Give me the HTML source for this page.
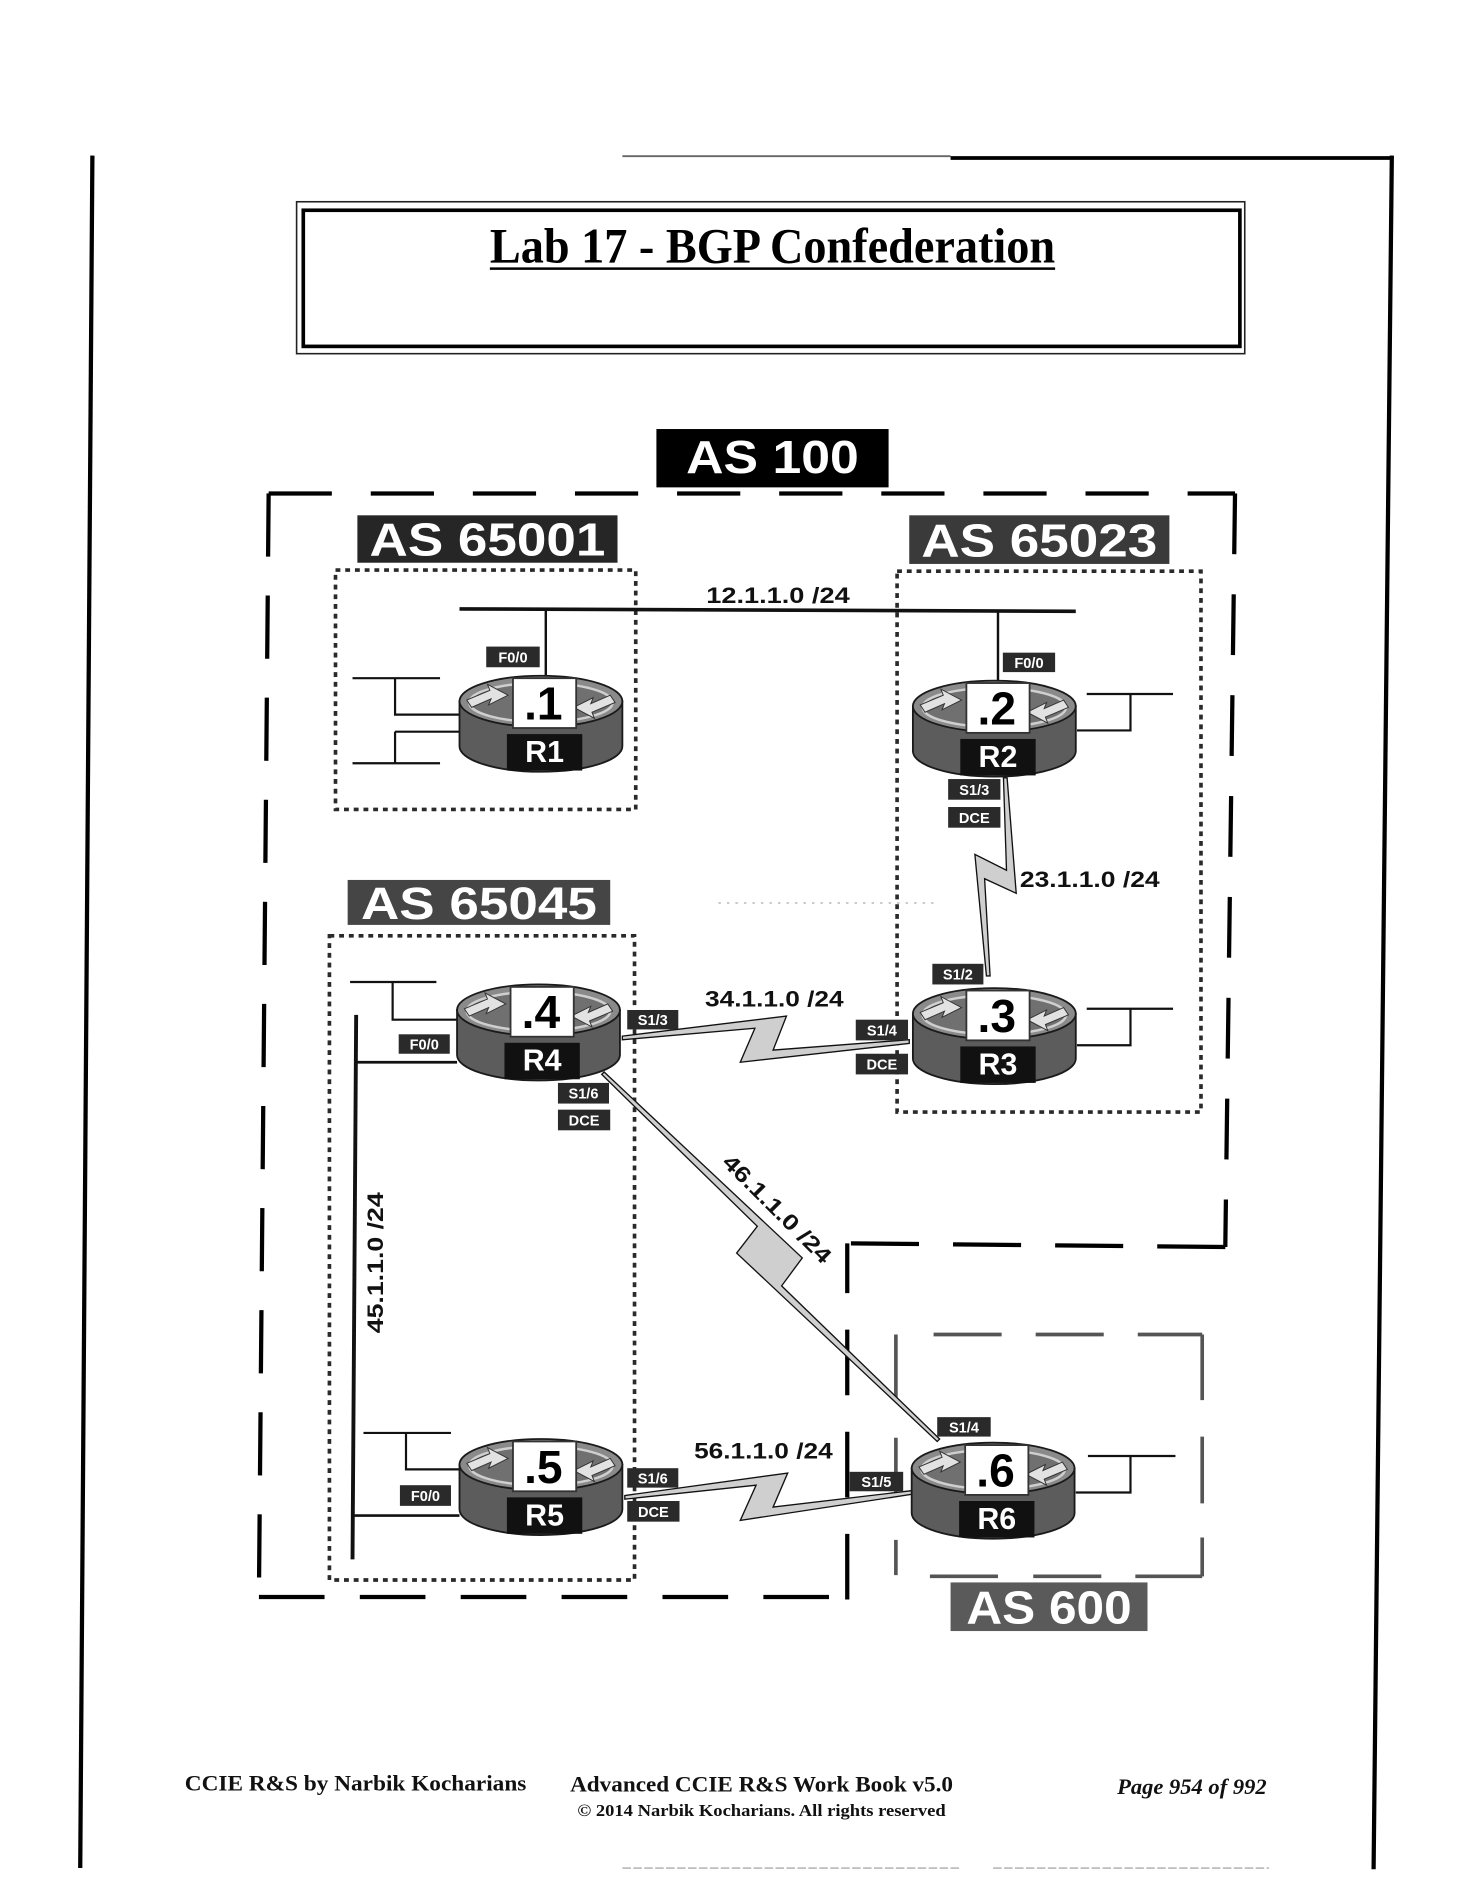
<!DOCTYPE html>
<html>
<head>
<meta charset="utf-8">
<style>
html,body{margin:0;padding:0;background:#ffffff;}
svg{display:block;}
</style>
</head>
<body>
<svg width="1483" height="1896" viewBox="0 0 1220 1560" preserveAspectRatio="none" xmlns="http://www.w3.org/2000/svg">
<defs>
  <g id="rt">
    <path d="M-67,0 V37 A67,21 0 0 0 67,37 V0 Z" fill="#5c5c5c" stroke="#1a1a1a" stroke-width="1.5"/>
    <ellipse cx="0" cy="0" rx="67" ry="21" fill="#8a8a8a" stroke="#1a1a1a" stroke-width="1.5"/>
    <ellipse cx="0" cy="1" rx="59" ry="16" fill="#707070" stroke="#cfcfcf" stroke-width="2"/>
    <path d="M-61,-1 L-42,-9 L-44,-14 L-27,-5 L-43,3 L-41,-2 L-57,5 Z" fill="#e2e2e2" stroke="#333" stroke-width="0.8"/>
    <path d="M61,1 L42,9 L44,14 L27,5 L43,-3 L41,2 L57,-5 Z" fill="#e2e2e2" stroke="#333" stroke-width="0.8"/>
    <rect x="-23" y="-19" width="52" height="41" fill="#ffffff" stroke="#333" stroke-width="1.5"/>
    <rect x="-28" y="27" width="62" height="30" fill="#111111"/>
  </g>
</defs>

<!-- page borders -->
<line x1="512" y1="128.5" x2="782" y2="128.5" stroke="#666" stroke-width="1.5"/>
<line x1="782" y1="130" x2="1146" y2="130" stroke="#000" stroke-width="3"/>
<line x1="76" y1="128" x2="66" y2="1537" stroke="#000" stroke-width="3.5"/>
<line x1="1145" y1="128" x2="1130" y2="1538" stroke="#000" stroke-width="3.5"/>
<path d="M512,1537 H790 M817,1537 H1044" stroke="#999" stroke-width="1" stroke-dasharray="7 2"/>

<!-- title box -->
<rect x="244" y="166" width="780" height="125" fill="none" stroke="#222" stroke-width="1.3"/>
<rect x="249.5" y="173" width="770.5" height="112" fill="none" stroke="#000" stroke-width="3"/>
<text x="635.5" y="216" font-family="'Liberation Serif', serif" font-weight="bold" font-size="41" text-anchor="middle" textLength="465" lengthAdjust="spacingAndGlyphs" fill="#000">Lab 17 - BGP Confederation</text>
<line x1="403" y1="221" x2="868" y2="221" stroke="#000" stroke-width="2"/>

<!-- AS 100 outer boundary -->
<g stroke="#000" stroke-width="3.5" fill="none">
  <path d="M221,406 H1016" stroke-dasharray="52 32"/>
  <path d="M1016,406 L1008,1026" stroke-dasharray="50 33"/>
  <path d="M1008,1026 L697,1023" stroke-dasharray="56 28"/>
  <path d="M697,1316 V1023" stroke-dasharray="54 30"/>
  <path d="M213,1314 H697" stroke-dasharray="54 29"/>
  <path d="M221,406 L213,1314" stroke-dasharray="52 32"/>
</g>

<!-- AS 600 inner box -->
<g stroke="#555" stroke-width="3" fill="none">
  <path d="M768,1098 H824 M852,1098 H908 M936,1098 H989"/>
  <path d="M989,1098 V1152 M989,1182 V1237 M989,1265 V1297"/>
  <path d="M765,1297 H821 M850,1297 H906 M934,1297 H989"/>
  <path d="M737,1098 V1152 M737,1183 V1231 M737,1267 V1296"/>
</g>

<!-- dotted sub-AS boxes -->
<g stroke="#2a2a2a" stroke-width="3" fill="none" stroke-dasharray="4 4">
  <rect x="276" y="469" width="247" height="197"/>
  <rect x="738" y="470" width="250" height="445"/>
  <rect x="271" y="770" width="251" height="530"/>
</g>
<line x1="591" y1="743" x2="773" y2="743" stroke="#aaa" stroke-width="1" stroke-dasharray="2 5"/>

<!-- AS labels -->
<rect x="540" y="353" width="191" height="48" fill="#000"/>
<text x="635.5" y="389" font-family="'Liberation Sans', sans-serif" font-weight="bold" font-size="38" text-anchor="middle" textLength="142" lengthAdjust="spacingAndGlyphs" fill="#fff">AS 100</text>

<rect x="294" y="424" width="214" height="39" fill="#262626"/>
<text x="401" y="457" font-family="'Liberation Sans', sans-serif" font-weight="bold" font-size="38" text-anchor="middle" textLength="194" lengthAdjust="spacingAndGlyphs" fill="#fff">AS 65001</text>

<rect x="748" y="424" width="214" height="40" fill="#3a3a3a"/>
<text x="855" y="458" font-family="'Liberation Sans', sans-serif" font-weight="bold" font-size="38" text-anchor="middle" textLength="194" lengthAdjust="spacingAndGlyphs" fill="#fff">AS 65023</text>

<rect x="286" y="724" width="216" height="37" fill="#454545"/>
<text x="394" y="756" font-family="'Liberation Sans', sans-serif" font-weight="bold" font-size="37" text-anchor="middle" textLength="194" lengthAdjust="spacingAndGlyphs" fill="#fff">AS 65045</text>

<rect x="782" y="1302" width="162" height="40" fill="#5a5a5a"/>
<text x="863" y="1336" font-family="'Liberation Sans', sans-serif" font-weight="bold" font-size="38" text-anchor="middle" textLength="136" lengthAdjust="spacingAndGlyphs" fill="#fff">AS 600</text>

<!-- Ethernet segments and stubs -->
<g stroke="#111" fill="none">
  <line x1="378" y1="501" x2="885" y2="503" stroke-width="3"/>
  <line x1="449" y1="501" x2="449" y2="557" stroke-width="2"/>
  <line x1="821" y1="503" x2="821" y2="561" stroke-width="2"/>
  <path d="M290,558 H362 M325,558 V588 H378 M325,602 H378 M325,602 V628 M290,628 H362" stroke-width="1.8"/>
  <path d="M894,571 H965 M930,571 V601 H886" stroke-width="1.8"/>
  <path d="M894,830 H965 M930,830 V860 H886" stroke-width="1.8"/>
  <path d="M895,1198 H967 M930,1198 V1228 H885" stroke-width="1.8"/>
  <path d="M288,808 H359 M323,808 V839 H376" stroke-width="1.8"/>
  <path d="M299,1179 H371 M334,1179 V1209 H378" stroke-width="1.8"/>
  <line x1="293" y1="835" x2="290" y2="1283" stroke-width="3.2"/>
  <line x1="293" y1="874" x2="376" y2="874" stroke-width="2.2"/>
  <line x1="290" y1="1247" x2="378" y2="1247" stroke-width="2.2"/>
</g>

<!-- serial links -->
<g fill="#cfcfcf" stroke="#111" stroke-width="1.1" stroke-linejoin="miter">
  <polygon points="828.5,640 836,735 810,723 814.5,803 811.5,803 802,703 828,716 825.5,640"/>
  <polygon points="512,852.5 647,836 636,864 748,855.5 748,858.5 609,874 621,846 512,855.5"/>
  <polygon points="497,882 660,1035 643,1058 773,1184 771,1186 606,1031 623,1009 495,884"/>
  <polygon points="514,1230.5 648,1212 636,1240 750,1226.5 750,1229.5 609,1251 622,1222 514,1233.5"/>
</g>

<!-- network labels -->
<g font-family="'Liberation Sans', sans-serif" font-weight="bold" font-size="18" fill="#111">
  <text x="581" y="496" textLength="118" lengthAdjust="spacingAndGlyphs">12.1.1.0 /24</text>
  <text x="839" y="730" textLength="115" lengthAdjust="spacingAndGlyphs">23.1.1.0 /24</text>
  <text x="580" y="828" textLength="114" lengthAdjust="spacingAndGlyphs">34.1.1.0 /24</text>
  <text x="571" y="1200" textLength="114" lengthAdjust="spacingAndGlyphs">56.1.1.0 /24</text>
  <text transform="translate(315,1039) rotate(-90)" x="0" y="0" text-anchor="middle" textLength="116" lengthAdjust="spacingAndGlyphs">45.1.1.0 /24</text>
  <text transform="translate(635,999) rotate(45)" x="0" y="0" text-anchor="middle" textLength="118" lengthAdjust="spacingAndGlyphs">46.1.1.0 /24</text>
</g>

<!-- routers -->
<use href="#rt" x="445" y="577"/>
<use href="#rt" x="818" y="581"/>
<use href="#rt" x="818" y="834"/>
<use href="#rt" x="443" y="831"/>
<use href="#rt" x="445" y="1205"/>
<use href="#rt" x="817" y="1208"/>

<g font-family="'Liberation Sans', sans-serif" font-weight="bold" text-anchor="middle">
  <g font-size="38" fill="#000">
    <text x="447" y="592">.1</text>
    <text x="820" y="596">.2</text>
    <text x="820" y="849">.3</text>
    <text x="445" y="846">.4</text>
    <text x="447" y="1220">.5</text>
    <text x="819" y="1223">.6</text>
  </g>
  <g font-size="25" fill="#fff">
    <text x="448" y="627">R1</text>
    <text x="821" y="631">R2</text>
    <text x="821" y="884">R3</text>
    <text x="446" y="881">R4</text>
    <text x="448" y="1255">R5</text>
    <text x="820" y="1258">R6</text>
  </g>
</g>

<!-- interface labels -->
<g fill="#2a2a2a">
  <rect x="400" y="532" width="44" height="17"/>
  <rect x="825" y="537" width="43" height="16"/>
  <rect x="780" y="641" width="43" height="17"/>
  <rect x="780" y="664" width="43" height="17"/>
  <rect x="767" y="793" width="42" height="17"/>
  <rect x="704" y="839" width="43" height="17"/>
  <rect x="704" y="867" width="43" height="17"/>
  <rect x="328" y="851" width="42" height="16"/>
  <rect x="516" y="831" width="42" height="16"/>
  <rect x="459" y="891" width="42" height="17"/>
  <rect x="459" y="913" width="43" height="17"/>
  <rect x="329" y="1222" width="42" height="17"/>
  <rect x="516" y="1208" width="42" height="16"/>
  <rect x="516" y="1235" width="43" height="17"/>
  <rect x="771" y="1166" width="44" height="16"/>
  <rect x="699" y="1211" width="44" height="16"/>
</g>
<g font-family="'Liberation Sans', sans-serif" font-weight="bold" font-size="12" fill="#fff" text-anchor="middle">
  <text x="422" y="545">F0/0</text>
  <text x="846.5" y="549.5">F0/0</text>
  <text x="801.5" y="654">S1/3</text>
  <text x="801.5" y="677">DCE</text>
  <text x="788" y="806">S1/2</text>
  <text x="725.5" y="852">S1/4</text>
  <text x="725.5" y="880">DCE</text>
  <text x="349" y="863.5">F0/0</text>
  <text x="537" y="843.5">S1/3</text>
  <text x="480" y="904">S1/6</text>
  <text x="480.5" y="926">DCE</text>
  <text x="350" y="1235">F0/0</text>
  <text x="537" y="1220.5">S1/6</text>
  <text x="537.5" y="1248">DCE</text>
  <text x="793" y="1178.5">S1/4</text>
  <text x="721" y="1223.5">S1/5</text>
</g>

<!-- footer -->
<g font-family="'Liberation Serif', serif" fill="#111">
  <text x="152" y="1473" font-size="18" font-weight="bold" textLength="281" lengthAdjust="spacingAndGlyphs">CCIE R&amp;S by Narbik Kocharians</text>
  <text x="469" y="1474" font-size="18" font-weight="bold" textLength="315" lengthAdjust="spacingAndGlyphs">Advanced CCIE R&amp;S Work Book v5.0</text>
  <text x="475" y="1494" font-size="14" font-weight="bold" textLength="303" lengthAdjust="spacingAndGlyphs">© 2014 Narbik Kocharians. All rights reserved</text>
  <text x="919" y="1476" font-size="18" font-weight="bold" font-style="italic" textLength="123" lengthAdjust="spacingAndGlyphs">Page 954 of 992</text>
</g>
</svg>
</body>
</html>
